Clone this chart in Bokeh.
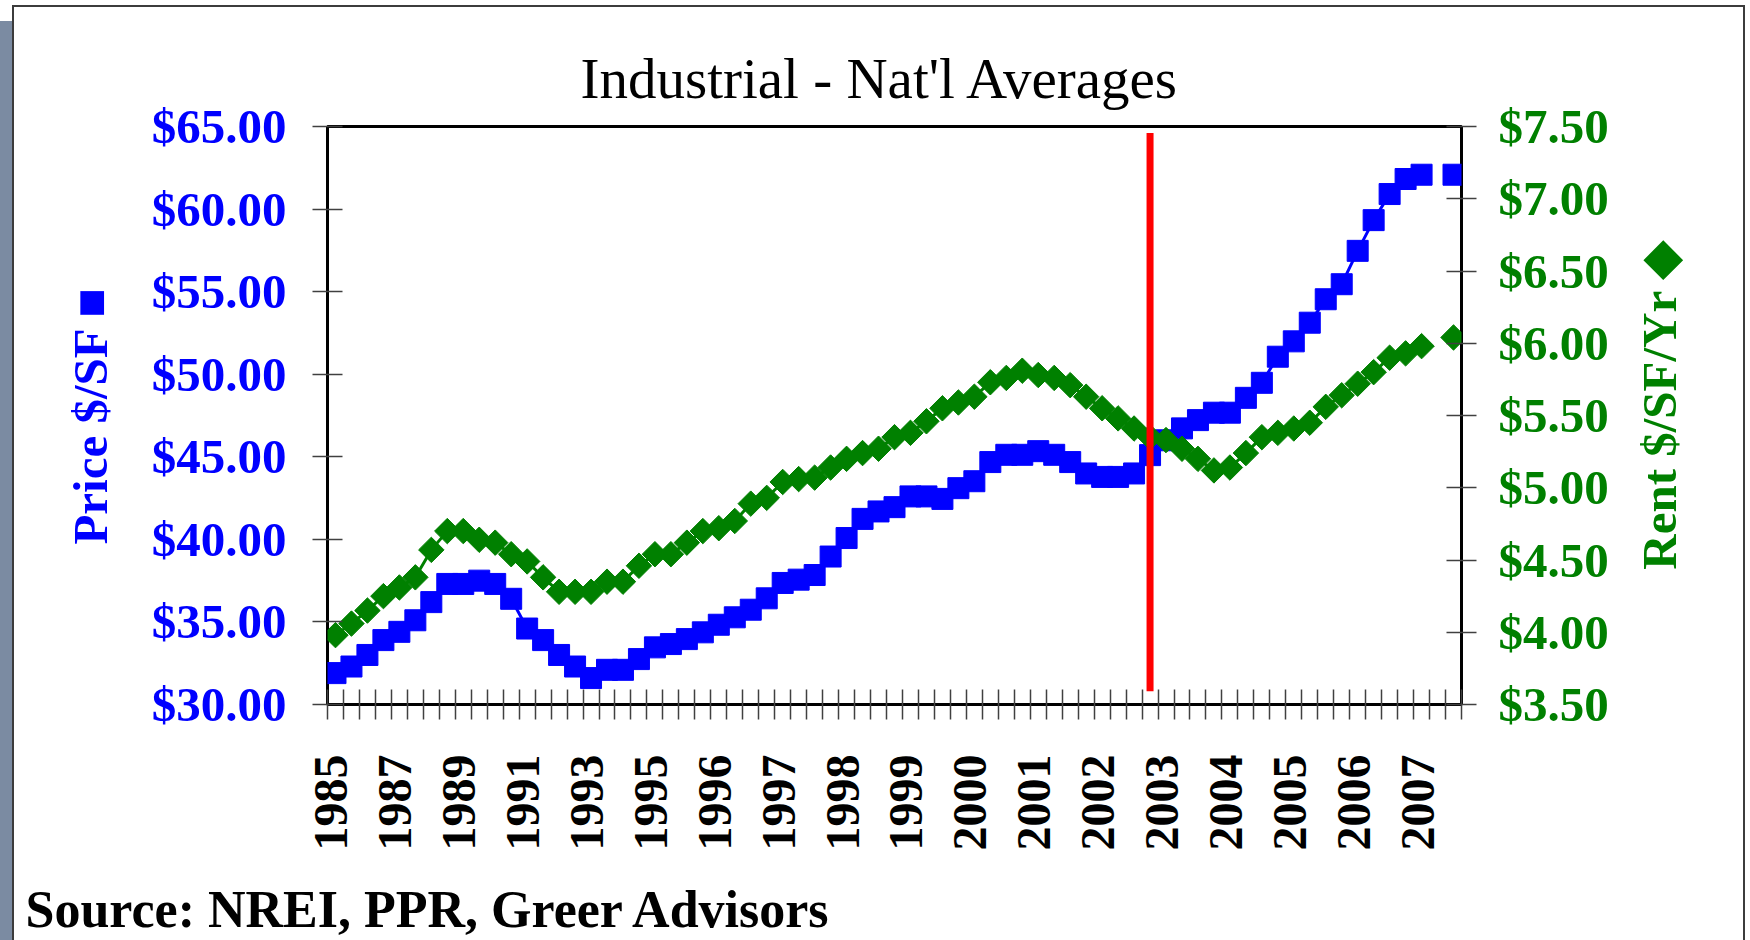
import math
from bokeh.plotting import figure
from bokeh.models import (Range1d, LinearAxis, FixedTicker, NumeralTickFormatter,
                          CustomJSTickFormatter, Title)
from bokeh.embed import file_html
from bokeh.resources import INLINE

nan = float("nan")

# ---------------- data ----------------
period = list(range(71))  # 1985-1994 half-yearly, 1995-2007 quarterly

price = [31.9, 32.3, 33.0, 33.9, 34.4, 35.1, 36.2, 37.3, 37.3, 37.5,
         37.3, 36.4, 34.6, 33.9, 33.0, 32.3, 31.6, 32.1, 32.1, 32.75,
         33.46, 33.66, 33.96, 34.37, 34.83, 35.28, 35.74, 36.43, 37.36, 37.56,
         37.84, 38.96, 40.08, 41.24, 41.69, 41.95, 42.6, 42.6, 42.45, 43.1,
         43.52, 44.68, 45.12, 45.12, 45.34, 45.12, 44.68, 43.99, 43.78, 43.78,
         43.99, 45.1, 46.0, 46.72, 47.22, 47.67, 47.67, 48.57, 49.48, 51.06,
         51.99, 53.12, 54.54, 55.45, 57.47, 59.33, 60.91, 61.82, 62.08, nan,
         62.08]

rent = [3.98, 4.06, 4.15, 4.25, 4.31, 4.38, 4.57, 4.70, 4.70, 4.64,
        4.62, 4.54, 4.49, 4.38, 4.28, 4.28, 4.28, 4.35, 4.35, 4.46,
        4.54, 4.54, 4.62, 4.70, 4.72, 4.77, 4.89, 4.93, 5.04, 5.06,
        5.07, 5.14, 5.20, 5.24, 5.27, 5.35, 5.38, 5.46, 5.55, 5.59,
        5.63, 5.73, 5.76, 5.81, 5.78, 5.76, 5.71, 5.63, 5.55, 5.48,
        5.41, 5.35, 5.33, 5.27, 5.20, 5.12, 5.14, 5.24, 5.35, 5.38,
        5.41, 5.45, 5.56, 5.64, 5.72, 5.80, 5.90, 5.93, 5.98, nan,
        6.04]

year_labels = ["1985", "1987", "1989", "1991", "1993", "1995", "1996", "1997",
               "1998", "1999", "2000", "2001", "2002", "2003", "2004", "2005",
               "2006", "2007"]
label_step = 4

price_ticks = [30, 35, 40, 45, 50, 55, 60, 65]
rent_ticks = [3.5, 4.0, 4.5, 5.0, 5.5, 6.0, 6.5, 7.0, 7.5]

marker_period = 51      # red vertical marker
marker_low = 30.8
marker_high = 64.6

title_text = "Industrial - Nat'l Averages"
left_title = "Price $/SF \u25A0"
right_title = "Rent $/SF/Yr \u25C6"
source_text = "Source: NREI, PPR, Greer Advisors"

# ---------------- layout ----------------
W, H = 1750, 940
FL, FT, FR, FB = 327, 126, 1461, 704   # frame in page pixels

BLUE = "#0000FF"
GREEN = "#008000"
RED = "#FF0000"
SERIF = "Liberation Serif"
TICKC = "#404040"
SLATE = "#7b8ba2"
EDGE = "#3c3c3c"

p = figure(width=W, height=H, output_backend="svg", toolbar_location=None,
           x_range=Range1d(-0.5, len(period) - 0.5), y_range=Range1d(30, 65),
           min_border_left=FL, min_border_right=W - FR,
           min_border_top=FT, min_border_bottom=H - FB,
           background_fill_color="white", border_fill_color=None)
p.extra_y_ranges = {"rent": Range1d(3.5, 7.5)}
p.xgrid.visible = False
p.ygrid.visible = False
p.outline_line_color = "black"
p.outline_line_width = 3

# slide background: slate strip on the left and a thin panel border
grad = lambda c: f"linear-gradient({c}, {c})"
p.styles = {
    "background-color": "white",
    "background-image": ", ".join([grad(EDGE), grad(EDGE), grad(EDGE), grad(SLATE)]),
    "background-size": "2px 935px, 1733px 2px, 2px 935px, 12px 919px",
    "background-position": "12px 5px, 12px 5px, 1743px 5px, 0px 21px",
    "background-repeat": "no-repeat",
}

# title
p.title.text = title_text
p.title.text_font = SERIF
p.title.text_font_size = "57px"
p.title.text_font_style = "normal"
p.title.text_color = "black"
p.title.align = "left"
p.title.offset = 580 - FL
p.title.standoff = 33

# left axis
ya = p.yaxis[0]
ya.ticker = FixedTicker(ticks=price_ticks, minor_ticks=[])
ya.formatter = NumeralTickFormatter(format="$0.00")
ya.major_label_text_font = SERIF
ya.major_label_text_font_style = "bold"
ya.major_label_text_font_size = "49px"
ya.major_label_text_color = BLUE
ya.major_tick_in = 15
ya.major_tick_out = 15
ya.major_tick_line_color = TICKC
ya.major_tick_line_width = 1.5
ya.minor_tick_line_color = None
ya.axis_line_color = None
ya.major_label_standoff = 26
ya.axis_label = left_title
ya.axis_label_text_font = SERIF
ya.axis_label_text_font_style = "bold"
ya.axis_label_text_font_size = "49px"
ya.axis_label_text_color = BLUE
ya.axis_label_standoff = 31

# right axis (ticks and labels)
ra = LinearAxis(y_range_name="rent",
                ticker=FixedTicker(ticks=rent_ticks, minor_ticks=[]),
                formatter=NumeralTickFormatter(format="$0.00"))
ra.major_label_text_font = SERIF
ra.major_label_text_font_style = "bold"
ra.major_label_text_font_size = "49px"
ra.major_label_text_color = GREEN
ra.major_tick_in = 15
ra.major_tick_out = 15
ra.major_tick_line_color = TICKC
ra.major_tick_line_width = 1.5
ra.minor_tick_line_color = None
ra.axis_line_color = None
ra.major_label_standoff = 22
p.add_layout(ra, "right")

# right axis title (reads bottom-to-top), carried by a tick-less axis;
# its text starts at the bottom of the frame, so it is lifted with no-break spaces
NBSP = "\u00A0"
rt = LinearAxis(y_range_name="rent", ticker=FixedTicker(ticks=[], minor_ticks=[]))
rt.axis_line_color = None
rt.major_tick_line_color = None
rt.minor_tick_line_color = None
rt.major_tick_in = 0
rt.major_tick_out = 0
rt.minor_tick_in = 0
rt.minor_tick_out = 0
rt.major_label_standoff = 0
rt.axis_label_orientation = math.pi / 2
rt.axis_label_align = "start"
rt.axis_label = NBSP * 11 + right_title
rt.axis_label_text_font = SERIF
rt.axis_label_text_font_style = "bold"
rt.axis_label_text_font_size = "49px"
rt.axis_label_text_color = GREEN
rt.axis_label_standoff = 48
p.add_layout(rt, "right")

# bottom axis
label_pos = [i * label_step - 0.25 for i in range(len(year_labels))]
bounds = [k - 0.5 for k in range(len(period) + 1)]
xa = p.xaxis[0]
xa.ticker = FixedTicker(ticks=label_pos, minor_ticks=bounds)
xa.formatter = CustomJSTickFormatter(
    args=dict(labs=year_labels, step=label_step),
    code="const i = Math.round((tick + 0.25) / step); return (i >= 0 && i < labs.length) ? labs[i] : '';")
xa.major_label_orientation = math.pi / 2
xa.major_label_text_font = SERIF
xa.major_label_text_font_style = "bold"
xa.major_label_text_font_size = "48px"
xa.major_label_text_color = "black"
xa.major_tick_in = 0
xa.major_tick_out = 0
xa.major_tick_line_color = None
xa.minor_tick_in = 15
xa.minor_tick_out = 15
xa.minor_tick_line_color = TICKC
xa.minor_tick_line_width = 1.5
xa.axis_line_color = None
xa.major_label_standoff = 35

# spacer + source line under the axis
p.add_layout(Title(text=" ", text_font_size="2px", standoff=18), "below")
p.add_layout(Title(text=source_text, align="left", offset=25 - FL,
                   text_font=SERIF, text_font_style="bold", text_font_size="52px",
                   text_color="black", standoff=6), "below")

# series
p.line(period, price, line_color=BLUE, line_width=3)
p.scatter(period, price, marker="square", size=21, fill_color=BLUE,
          line_color=BLUE, line_width=1)
p.line(period, rent, line_color=GREEN, line_width=3, y_range_name="rent")
p.scatter(period, rent, marker="square", angle=math.pi / 4, size=18,
          fill_color=GREEN, line_color=GREEN, line_width=1, y_range_name="rent")
p.segment(x0=[marker_period], y0=[marker_low], x1=[marker_period], y1=[marker_high],
          line_color=RED, line_width=7)

open("out.html", "w").write(file_html(p, INLINE))
